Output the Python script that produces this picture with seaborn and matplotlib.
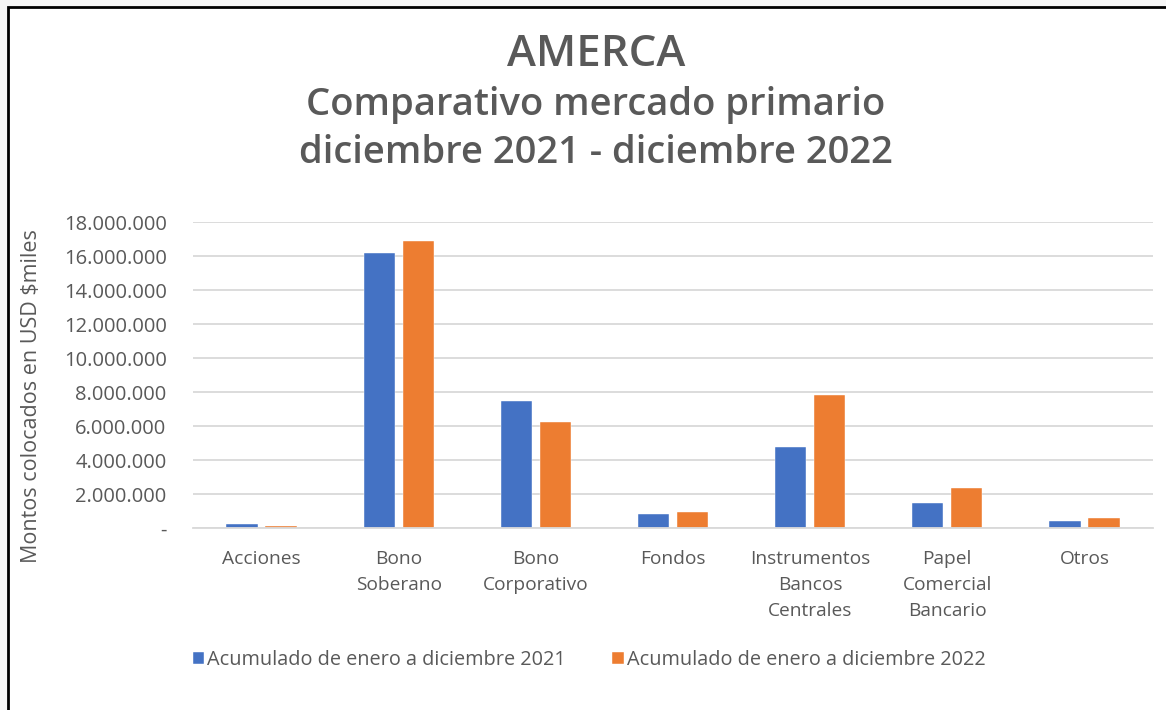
import numpy as np
import pandas as pd
import matplotlib
matplotlib.use("Agg")
import matplotlib.pyplot as plt
from matplotlib.ticker import FuncFormatter, MultipleLocator
from matplotlib.patches import Rectangle
import seaborn as sns

categories = ["Acciones", "Bono\nSoberano", "Bono\nCorporativo", "Fondos",
              "Instrumentos\nBancos\nCentrales", "Papel\nComercial\nBancario", "Otros"]
series_names = ["Acumulado de enero a diciembre 2021", "Acumulado de enero a diciembre 2022"]
values_2021 = [240000, 16150000, 7470000, 820000, 4760000, 1470000, 410000]
values_2022 = [120000, 16900000, 6240000, 940000, 7820000, 2350000, 590000]
title_lines = ["AMERCA", "Comparativo mercado primario", "diciembre 2021 - diciembre 2022"]
ylabel = "Montos colocados en USD $miles"

df = pd.DataFrame({
    "cat": categories * 2,
    "serie": [series_names[0]] * len(categories) + [series_names[1]] * len(categories),
    "valor": values_2021 + values_2022,
})

sns.set_theme(style="white")
plt.rcParams["font.family"] = ["Open Sans", "DejaVu Sans"]
TXT = "#595959"

W, H = 1166, 710
fig = plt.figure(figsize=(W / 100, H / 100), dpi=100)
fig.patch.set_facecolor("#f6f6f6")
fig.patches.append(Rectangle((8 / W, 0 - 0.01), 1.0, 1 - 7 / H + 0.01, transform=fig.transFigure,
                             facecolor="white", edgecolor="black", linewidth=2, zorder=-10))

ax = fig.add_axes([193 / W, 1 - 528 / H, (1153 - 193) / W, (528 - 222) / H])
ax.set_facecolor("none")
ax.set_zorder(5)

sns.barplot(data=df, x="cat", y="valor", hue="serie", order=categories, hue_order=series_names,
            palette=["#4472C4", "#ED7D31"], width=0.57, gap=0.2, saturation=1,
            edgecolor="white", linewidth=0.3, ax=ax, legend=True)

ax.set_ylim(0, 18000000)
ax.set_xlim(-0.5, len(categories) - 0.5)
ax.yaxis.set_major_locator(MultipleLocator(2000000))
ax.yaxis.set_major_formatter(FuncFormatter(lambda v, p: "-" if v == 0 else f"{int(v):,}".replace(",", ".")))
ax.grid(axis="y", color="#d9d9d9", linewidth=1.3)
ax.set_axisbelow(True)
for s in ["left", "right", "top"]:
    ax.spines[s].set_visible(False)
ax.spines["bottom"].set_color("#d9d9d9")
ax.spines["bottom"].set_linewidth(1.3)
ax.tick_params(axis="y", length=0, pad=19, labelsize=14.5, labelcolor=TXT)
ax.tick_params(axis="x", length=0, pad=16, labelsize=13.8, labelcolor=TXT)
for t in ax.get_xticklabels():
    t.set_linespacing(1.55)
    t.set_verticalalignment("top")
ax.set_xlabel("")
ax.set_ylabel(ylabel, fontsize=15.5, color=TXT)
ax.yaxis.set_label_coords(-151 / (1153 - 193), 0.5 - 21 / 306)

handles, labels = ax.get_legend_handles_labels()
ax.get_legend().remove()
fig.legend(handles, labels, loc="center", bbox_to_anchor=(589 / W, 1 - 660 / H), ncol=2,
           frameon=False, fontsize=14.3, labelcolor=TXT, handlelength=0.6, handleheight=0.6,
           handletextpad=0.15, columnspacing=2.3)

fig.text(596 / W, 1 - 55 / H, title_lines[0], ha="center", va="center", fontsize=31.5,
         fontweight="semibold", color=TXT)
fig.text(596 / W, 1 - 105 / H, title_lines[1], ha="center", va="center", fontsize=27.5,
         fontweight="semibold", color=TXT)
fig.text(596 / W, 1 - 153 / H, title_lines[2], ha="center", va="center", fontsize=27.5,
         fontweight="semibold", color=TXT)

fig.savefig("out.png", dpi=100, facecolor=fig.get_facecolor())
